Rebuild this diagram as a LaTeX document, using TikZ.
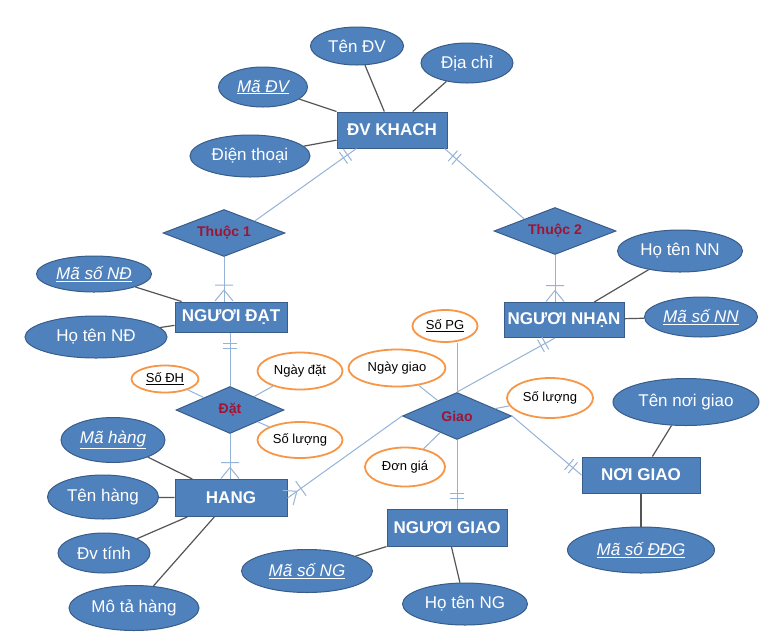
\documentclass[tikz,border=0pt]{standalone}
\usepackage{fontspec}
\setmainfont{Liberation Sans}
\usepackage{tikz}
\usetikzlibrary{shapes,arrows,positioning,calc,decorations.markings}
\usepackage{xcolor}

\definecolor{entblue}{RGB}{79,129,189}
\definecolor{entborder}{RGB}{56,93,138}
\definecolor{connblue}{RGB}{149,179,215}
\definecolor{linkgray}{RGB}{85,85,85}
\definecolor{attorange}{RGB}{247,150,70}
\definecolor{reltext}{RGB}{160,20,50}

\tikzset{
  entity/.style={draw=entborder, fill=entblue, text=white, font=\bfseries\fontsize{17}{20}\selectfont, inner sep=2pt, line width=1pt},
  attr/.style={ellipse, draw=entborder, fill=entblue, text=white, font=\fontsize{17}{20}\selectfont, inner sep=0pt, line width=1pt},
  relattr/.style={ellipse, draw=attorange, fill=white, text=black, font=\fontsize{13}{15}\selectfont, inner sep=0pt, line width=1.8pt},
  rel/.style={diamond, aspect=2.6, draw=entborder, fill=entblue, text=reltext, font=\bfseries\fontsize{14}{16}\selectfont, inner sep=0pt, line width=1pt},
  link/.style={draw=linkgray, line width=1.2pt},
  conn/.style={draw=connblue, line width=1pt},
  onemark/.style={postaction={decorate, decoration={markings,
      mark=at position -11pt with {\draw[connblue, line width=1pt] (0pt,-7pt) -- (0pt,7pt);},
      mark=at position -16pt with {\draw[connblue, line width=1pt] (0pt,-7pt) -- (0pt,7pt);}}}},
  manymark/.style={postaction={decorate, decoration={markings,
      mark=at position -0.5pt with {\draw[connblue, line width=1pt] (-11pt,0pt) -- (0pt,9pt) (-11pt,0pt) -- (0pt,-9pt) (-16pt,-9pt) -- (-16pt,9pt);}}}},
}

\begin{document}
\begin{tikzpicture}[x=1pt,y=-1pt]
            \useasboundingbox[fill=white] (0,0) rectangle (780,641);

            % Entities
            \node[entity, minimum width=110, minimum height=36] (DV) at (392,130) {ĐV KHACH};
            \node[entity, minimum width=112, minimum height=30] (ND) at (231,317) {NGƯƠI ĐẠT};
            \node[entity, minimum width=120, minimum height=35] (NN) at (564,320) {NGƯƠI NHẠN};
            \node[entity, minimum width=112, minimum height=37] (HANG) at (231,498) {HANG};
            \node[entity, minimum width=120, minimum height=37] (NG) at (447,528) {NGƯƠI GIAO};
            \node[entity, minimum width=118, minimum height=36] (NOI) at (641,475) {NƠI GIAO};

            % Relationships
            \node[rel, minimum width=122, minimum height=47] (T1) at (224,233) {Thuộc 1};
            \node[rel, minimum width=122, minimum height=47] (T2) at (555,231) {Thuộc 2};
            \node[rel, minimum width=108, minimum height=47] (DAT) at (230,410) {Đặt};
            \node[rel, minimum width=109, minimum height=47] (GIAO) at (457,416) {Giao};

            % Attributes of DV KHACH
            \node[attr, minimum width=93, minimum height=38] (tenDV) at (357,46) {Tên ĐV};
            \node[attr, minimum width=92, minimum height=40] (diachi) at (467,63) {Địa chỉ};
            \node[attr, minimum width=89, minimum height=40] (maDV) at (263,87) {\textit{\underline{Mã ĐV}}};
            \node[attr, minimum width=120, minimum height=42] (dienthoai) at (250,156) {Điện thoại};
            \draw[link] (DV) -- (tenDV);
            \draw[link] (DV) -- (diachi);
            \draw[link] (DV) -- (maDV);
            \draw[link] (DV) -- (dienthoai);

            % Attributes of NGUOI DAT
            \node[attr, minimum width=115, minimum height=36] (maND) at (94,274) {\textit{\underline{Mã số NĐ}}};
            \node[attr, minimum width=142, minimum height=42] (tenND) at (96,337) {Họ tên NĐ};
            \draw[link] (ND) -- (maND);
            \draw[link] (ND) -- (tenND);

            % Attributes of NGUOI NHAN
            \node[attr, minimum width=125, minimum height=42] (tenNN) at (680,251) {Họ tên NN};
            \node[attr, minimum width=113, minimum height=40] (maNN) at (701,317) {\textit{\underline{Mã số NN}}};
            \draw[link] (NN) -- (tenNN);
            \draw[link] (NN) -- (maNN);

            % Attributes of HANG
            \node[attr, minimum width=104, minimum height=45] (maH) at (113,440) {\textit{\underline{Mã hàng}}};
            \node[attr, minimum width=111, minimum height=44] (tenH) at (103,497) {Tên hàng};
            \node[attr, minimum width=92, minimum height=40] (dvt) at (104,553) {Đv tính};
            \node[attr, minimum width=130, minimum height=45] (mota) at (134,608) {Mô tả hàng};
            \draw[link] (HANG) -- (maH);
            \draw[link] (HANG) -- (tenH);
            \draw[link] (HANG) -- (dvt);
            \draw[link] (HANG) -- (mota);

            % Attributes of NGUOI GIAO
            \node[attr, minimum width=131, minimum height=43] (maNG) at (307,571) {\textit{\underline{Mã số NG}}};
            \node[attr, minimum width=125, minimum height=42] (tenNG) at (465,604) {Họ tên NG};
            \draw[link] (NG) -- (maNG);
            \draw[link] (NG) -- (tenNG);

            % Attributes of NOI GIAO
            \node[attr, minimum width=146, minimum height=47] (tenNOI) at (686,402) {Tên nơi giao};
            \node[attr, minimum width=147, minimum height=46] (maNOI) at (641,550) {\textit{\underline{Mã số ĐĐG}}};
            \draw[link] (NOI) -- (tenNOI);
            \draw[link] (NOI) -- (maNOI);

            % Attributes of Dat
            \node[relattr, minimum width=67, minimum height=27] (soDH) at (165,379) {\underline{Số ĐH}};
            \node[relattr, minimum width=85, minimum height=37] (ngaydat) at (300,371) {Ngày đặt};
            \node[relattr, minimum width=85, minimum height=36] (sl1) at (300,440) {Số lượng};
            \draw[conn] (DAT) -- (soDH);
            \draw[conn] (DAT) -- (ngaydat);
            \draw[conn] (DAT) -- (sl1);

            % Attributes of Giao
            \node[relattr, minimum width=65, minimum height=32] (soPG) at (445,326) {\underline{Số PG}};
            \node[relattr, minimum width=97, minimum height=37] (ngaygiao) at (397,368) {Ngày giao};
            \node[relattr, minimum width=86, minimum height=40] (sl2) at (550,398) {Số lượng};
            \node[relattr, minimum width=80, minimum height=39] (dongia) at (405,467) {Đơn giá};
            \draw[conn] (GIAO.north) -- (GIAO.north |- soPG.south);
            \draw[conn] (GIAO) -- (ngaygiao);
            \draw[conn] (GIAO) -- (sl2);
            \draw[conn] (GIAO) -- (dongia);

            % Connectors with cardinality
            \draw[conn, onemark] (T1.north east) -- ([xshift=20pt]DV.south west);
            \draw[conn, onemark] (T2.north west) -- ([xshift=-3pt]DV.south east);
            \draw[conn, manymark] (T1.south) -- (T1.south |- ND.north);
            \draw[conn, manymark] (T2.south) -- (T2.south |- NN.north);
            \draw[conn, onemark] (DAT.north) -- (DAT.north |- ND.south);
            \draw[conn, manymark] (DAT.south) -- (DAT.south |- HANG.north);
            \draw[conn, manymark] (GIAO.west) -- (HANG.east);
            \draw[conn, onemark] (GIAO.north) -- (T2.south |- NN.south);
            \draw[conn, onemark] (GIAO.south) -- (GIAO.south |- NG.north);
            \draw[conn, onemark] (GIAO.east) -- (NOI.west);
        \end{tikzpicture}
\end{document}
